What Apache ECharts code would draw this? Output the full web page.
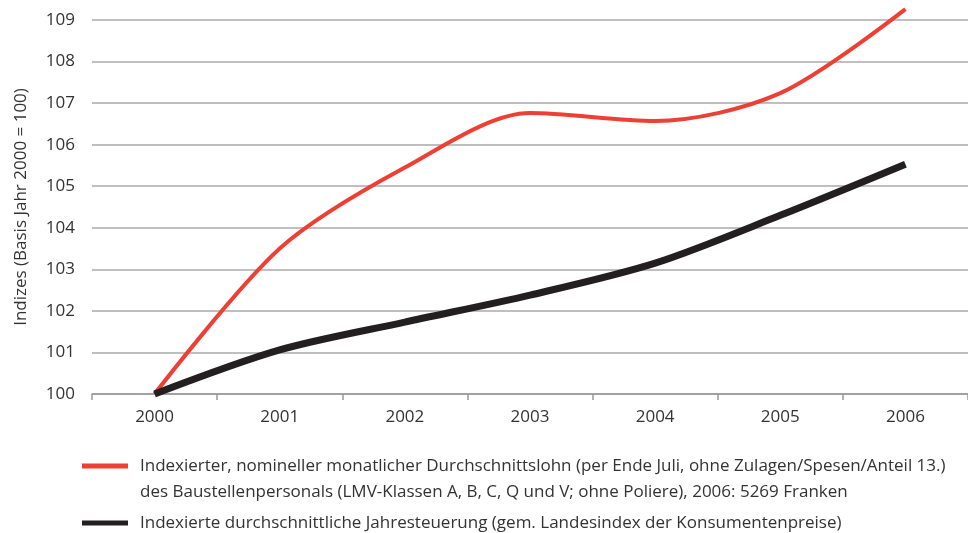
<!DOCTYPE html>
<html>
<head>
<meta charset="utf-8">
<script src="https://cdn.jsdelivr.net/npm/echarts@6/dist/echarts.min.js"></script>
<style>
  html, body { margin: 0; padding: 0; background: #fff; }
  #chart { width: 968px; height: 533px; }
</style>
</head>
<body>
<div id="chart"></div>
<script>
const years = ['2000', '2001', '2002', '2003', '2004', '2005', '2006'];
const lohn = [100, 103.5, 105.45, 106.76, 106.57, 107.24, 109.26];
const teuerung = [100, 101.06, 101.73, 102.38, 103.15, 104.3, 105.53];
const yTicks = [100, 101, 102, 103, 104, 105, 106, 107, 108, 109];

const lohnName = 'Indexierter, nomineller monatlicher Durchschnittslohn (per Ende Juli, ohne Zulagen/Spesen/Anteil 13.)\ndes Baustellenpersonals (LMV-Klassen A, B, C, Q und V; ohne Poliere), 2006: 5269 Franken';
const teuerungName = 'Indexierte durchschnittliche Jahresteuerung (gem. Landesindex der Konsumentenpreise)';

const font = '"Open Sans", sans-serif';

const chart = echarts.init(document.getElementById('chart'));

chart.setOption({
  animation: false,
  textStyle: { fontFamily: font },
  grid: { left: 92, right: -4, top: 20, bottom: 139, containLabel: false },
  legend: {
    orient: 'vertical',
    left: 77,
    top: 422,
    itemWidth: 46,
    itemHeight: 5,
    itemGap: 5,
    textStyle: { fontSize: 17, color: '#333', lineHeight: 26, fontFamily: font, padding: [0, 0, 0, 7] },
    // leading blank line keeps the icon level with the first text line
    formatter: name => (name === lohnName ? '\n' + name : name),
    data: [
      { name: lohnName, icon: 'rect' },
      { name: teuerungName, icon: 'rect' }
    ]
  },
  xAxis: {
    type: 'category',
    data: years,
    boundaryGap: true,
    axisLine: { lineStyle: { color: '#999', width: 1.5 } },
    axisTick: { show: true, length: 6, lineStyle: { color: '#999', width: 1.5 } },
    axisLabel: { fontSize: 17, color: '#333', margin: 15 }
  },
  yAxis: {
    type: 'value',
    min: yTicks[0],
    max: yTicks[yTicks.length - 1],
    interval: 1,
    name: 'Indizes (Basis Jahr 2000 = 100)',
    nameLocation: 'middle',
    nameGap: 62,
    nameTextStyle: { fontSize: 17, color: '#333' },
    axisLine: { show: false },
    axisTick: { show: false },
    axisLabel: { fontSize: 17, color: '#333', margin: 17 },
    splitLine: { lineStyle: { color: '#aaa', width: 1.5 } }
  },
  series: [
    {
      name: lohnName,
      type: 'line',
      data: lohn,
      smooth: 0.3,
      clip: false,
      showSymbol: false,
      color: '#ee3f34',
      lineStyle: { width: 4, color: '#ee3f34' }
    },
    {
      name: teuerungName,
      type: 'line',
      data: teuerung,
      smooth: 0.3,
      clip: false,
      showSymbol: false,
      color: '#231f20',
      lineStyle: { width: 7, color: '#231f20' }
    }
  ]
});
</script>
</body>
</html>
